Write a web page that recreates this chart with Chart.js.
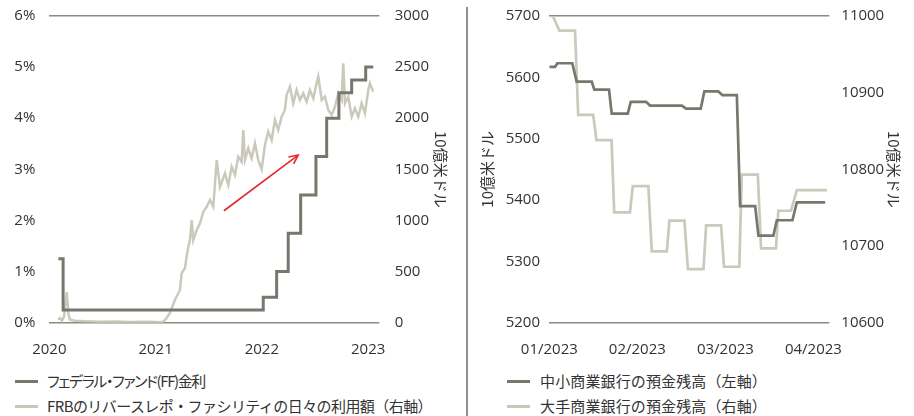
<!DOCTYPE html>
<html><head><meta charset="utf-8">
<script src="https://cdn.jsdelivr.net/npm/chart.js@4.4.0/dist/chart.umd.min.js"></script>
<style>
html,body{margin:0;padding:0;background:#fff;}
body{width:914px;height:416px;position:relative;overflow:hidden;font-family:'Noto Sans CJK JP',sans-serif;}
#c1wrap{position:absolute;left:0;top:0;width:460px;height:370px;}
#c2wrap{position:absolute;left:468px;top:0;width:446px;height:370px;}
#sep{position:absolute;left:466px;top:7px;width:2px;height:409px;background:#8f8f8f;}
.item{position:absolute;white-space:nowrap;height:20px;line-height:20px;font-size:15px;color:#333;}
.sw{position:absolute;height:3px;}
</style>
</head><body>
<div id="c1wrap"><canvas id="c1" width="460" height="370"></canvas></div>
<div id="sep"></div>
<div id="c2wrap"><canvas id="c2" width="446" height="370"></canvas></div>
<div id="leg"></div>
<script>
// ---------- Left chart data ----------
const leftYearTicks = [2020, 2021, 2022, 2023];
const ffYears = [2020.085, 2020.130, 2022.013, 2022.139, 2022.248, 2022.365, 2022.509, 2022.610, 2022.725, 2022.845, 2022.977, 2023.048];
const ffRate  = [1.25, 0.25, 0.5, 1.0, 1.75, 2.5, 3.25, 4.0, 4.5, 4.75, 5.0, 5.0];
const rrpYears = [
  2020.082, 2020.101, 2020.119, 2020.138, 2020.164, 2020.181, 2020.195, 2020.242, 2020.336, 2020.477,
  2020.618, 2020.759, 2020.900, 2020.994, 2021.041, 2021.072, 2021.104, 2021.135, 2021.182, 2021.229,
  2021.246, 2021.277, 2021.292, 2021.308, 2021.324, 2021.340, 2021.355, 2021.387, 2021.418, 2021.449,
  2021.481, 2021.512, 2021.543, 2021.559, 2021.575, 2021.606, 2021.653, 2021.684, 2021.716, 2021.747,
  2021.778, 2021.810, 2021.825, 2021.841, 2021.872, 2021.904, 2021.935, 2021.966, 2021.998, 2022.029,
  2022.060, 2022.092, 2022.123, 2022.154, 2022.186, 2022.217, 2022.233, 2022.264, 2022.295, 2022.327,
  2022.358, 2022.389, 2022.421, 2022.452, 2022.484, 2022.515, 2022.531, 2022.563, 2022.594, 2022.625,
  2022.657, 2022.688, 2022.719, 2022.751, 2022.766, 2022.782, 2022.813, 2022.845, 2022.876, 2022.907,
  2022.939, 2022.970, 2023.001, 2023.017, 2023.048];
const rrpValues = [
  30, 46, 20, 60, 300, 80, 30, 20, 15, 10,
  12, 8, 10, 8, 5, 10, 46, 95, 222, 320,
  486, 535, 646, 743, 809, 1004, 809, 907, 972, 1086,
  1134, 1200, 1134, 1363, 1591, 1330, 1461, 1347, 1526, 1445,
  1624, 1575, 1885, 1591, 1706, 1608, 1755, 1591, 1500, 1740,
  1870, 1787, 1983, 1885, 2015, 2081, 2227, 2308, 2146, 2276,
  2178, 2243, 2162, 2276, 2194, 2341, 2406, 2178, 2211, 2081,
  2031, 2113, 2243, 2178, 2537, 2146, 2211, 2015, 2097, 2015,
  2146, 2048, 2276, 2341, 2260];
const arrowFrom = [2021.643, 1095];
const arrowTo   = [2022.342, 1640];
const leftLabels = ['フェデラル・ファンド(FF)金利', 'FRBのリバースレポ・ファシリティの日々の利用額（右軸）'];

// ---------- Right chart data ----------
const monthTicks = [0, 1, 2, 3];
const monthLabels = ['01/2023', '02/2023', '03/2023', '04/2023'];
const smallX = [0.000, 0.065, 0.091, 0.261, 0.311, 0.482, 0.511, 0.678, 0.709, 0.891, 0.925, 1.099, 1.144, 1.505, 1.553, 1.720, 1.761, 1.920, 1.966, 2.130, 2.167, 2.338, 2.375, 2.545, 2.584, 2.761, 2.811, 3.133];
const smallDeposits = [5617, 5617, 5623, 5623, 5593, 5593, 5580, 5580, 5541, 5541, 5560, 5560, 5554, 5554, 5549, 5549, 5577, 5577, 5571, 5571, 5390, 5390, 5342, 5342, 5367, 5367, 5396, 5396];
const largeX = [0.000, 0.040, 0.114, 0.292, 0.328, 0.498, 0.536, 0.707, 0.737, 0.916, 0.948, 1.125, 1.164, 1.335, 1.364, 1.535, 1.574, 1.751, 1.781, 1.951, 1.984, 2.158, 2.186, 2.368, 2.405, 2.575, 2.601, 2.745, 2.811, 3.153];
const largeDeposits = [11000, 11000, 10981, 10981, 10871, 10871, 10838, 10838, 10744, 10744, 10778, 10778, 10693, 10693, 10733, 10733, 10670, 10670, 10727, 10727, 10673, 10673, 10793, 10793, 10697, 10697, 10746, 10746, 10773, 10773];
const rightLabels = ['中小商業銀行の預金残高（左軸）', '大手商業銀行の預金残高（右軸）'];
const axisTitle = '10億米ドル';

// ---------- styles ----------
const DARK = '#77776e', LIGHT = '#cbc9bc', GRID = '#8b8a7d', TXT = '#333333';
const SW_DARK = '#77776e', SW_LIGHT = '#c9c7b9';
Chart.defaults.font.family = "'Open Sans','Noto Sans CJK JP',sans-serif";
Chart.defaults.font.size = 15;
Chart.defaults.color = TXT;

const pts = (xs, ys) => xs.map((x, i) => ({x, y: ys[i]}));
const edgeGrid = (min, max) => ({
  drawTicks: false, lineWidth: 1.5,
  color: c => (c.tick && (c.tick.value === min || c.tick.value === max)) ? GRID : 'rgba(0,0,0,0)'
});
const titleFont = {family: "'Noto Sans CJK JP',sans-serif", size: 15};
const fixW = w => s => { s.width = w; s.paddingTop = 0; s.paddingBottom = 0; };

const arrowPlugin = {
  id: 'arrow',
  afterDatasetsDraw(chart) {
    const xs = chart.scales.x, ys = chart.scales.y2;
    const x1 = xs.getPixelForValue(arrowFrom[0]), y1 = ys.getPixelForValue(arrowFrom[1]);
    const x2 = xs.getPixelForValue(arrowTo[0]), y2 = ys.getPixelForValue(arrowTo[1]);
    const ctx = chart.ctx;
    ctx.save();
    ctx.strokeStyle = '#e8272b'; ctx.lineWidth = 1.6;
    ctx.beginPath(); ctx.moveTo(x1, y1); ctx.lineTo(x2, y2); ctx.stroke();
    const a = Math.atan2(y2 - y1, x2 - x1), L = 10, w = 0.45;
    ctx.beginPath();
    ctx.moveTo(x2 - L * Math.cos(a - w), y2 - L * Math.sin(a - w));
    ctx.lineTo(x2, y2);
    ctx.lineTo(x2 - L * Math.cos(a + w), y2 - L * Math.sin(a + w));
    ctx.stroke();
    ctx.restore();
  }
};

const X_AXIS_H = 370 - 322.7;

new Chart(document.getElementById('c1'), {
  type: 'line',
  data: {
    datasets: [
      {label: leftLabels[0], data: pts(ffYears, ffRate), yAxisID: 'y', borderColor: DARK, borderWidth: 3, stepped: 'before', pointRadius: 0, tension: 0},
      {label: leftLabels[1], data: pts(rrpYears, rrpValues), yAxisID: 'y2', borderColor: LIGHT, borderWidth: 2.5, pointRadius: 0, tension: 0}
    ]
  },
  options: {
    responsive: false, animation: false, devicePixelRatio: 1,
    layout: {padding: {top: 16, bottom: 0, left: 0, right: 0}},
    plugins: {legend: {display: false}, tooltip: {enabled: false}},
    scales: {
      x: {type: 'linear', min: 2020, max: 2023.105,
          afterBuildTicks: s => { s.ticks = leftYearTicks.map(v => ({value: v})); },
          ticks: {padding: 10, maxRotation: 0, callback: v => String(v)},
          grid: {display: false}, border: {display: false},
          afterFit: s => { s.height = X_AXIS_H; }},
      y: {position: 'left', min: 0, max: 6,
          ticks: {stepSize: 1, padding: 14, callback: v => v + '%'},
          grid: edgeGrid(0, 6), border: {display: false},
          afterFit: fixW(49.3)},
      y2: {position: 'right', min: 0, max: 3000,
          ticks: {stepSize: 500, padding: 7.4, callback: v => String(v)},
          grid: {display: false}, border: {display: false},
          title: {display: true, text: axisTitle, font: titleFont, padding: {top: 10, bottom: 0}, color: TXT},
          afterFit: fixW(80.7)}
    }
  },
  plugins: [arrowPlugin]
});

new Chart(document.getElementById('c2'), {
  type: 'line',
  data: {
    datasets: [
      {label: rightLabels[0], data: pts(smallX, smallDeposits), yAxisID: 'y', borderColor: DARK, borderWidth: 2.7, pointRadius: 0, tension: 0},
      {label: rightLabels[1], data: pts(largeX, largeDeposits), yAxisID: 'y2', borderColor: LIGHT, borderWidth: 2.7, pointRadius: 0, tension: 0}
    ]
  },
  options: {
    responsive: false, animation: false, devicePixelRatio: 1,
    layout: {padding: {top: 16, bottom: 0, left: 0, right: 0}},
    plugins: {legend: {display: false}, tooltip: {enabled: false}},
    scales: {
      x: {type: 'linear', min: 0, max: 3.18,
          afterBuildTicks: s => { s.ticks = monthTicks.map(v => ({value: v})); },
          ticks: {padding: 10, maxRotation: 0, callback: v => monthLabels[monthTicks.indexOf(v)] || ''},
          grid: {display: false}, border: {display: false},
          afterFit: s => { s.height = X_AXIS_H; }},
      y: {position: 'left', min: 5200, max: 5700,
          ticks: {stepSize: 100, padding: 9.3, callback: v => String(v)},
          grid: edgeGrid(5200, 5700), border: {display: false},
          title: {display: true, text: axisTitle, font: titleFont, padding: {top: 10.5, bottom: 0}, color: TXT},
          afterFit: fixW(81.3)},
      y2: {position: 'right', min: 10600, max: 11000,
          ticks: {stepSize: 100, padding: 4, callback: v => String(v)},
          grid: {display: false}, border: {display: false},
          title: {display: true, text: axisTitle, font: titleFont, padding: {top: 11, bottom: 0}, color: TXT},
          afterFit: fixW(84.7)}
    }
  }
});

// ---------- HTML legends ----------
const leg = document.getElementById('leg');
function addItem(swLeft, textLeft, yc, color, text, targetW, palt) {
  const sw = document.createElement('div');
  sw.className = 'sw';
  sw.style.cssText = `left:${swLeft}px;width:23px;top:${yc - 1.5}px;background:${color};`;
  leg.appendChild(sw);
  const t = document.createElement('div');
  t.className = 'item';
  t.style.cssText = `left:${textLeft}px;top:${yc - 10}px;` + (palt ? 'font-feature-settings:"palt";' : '');
  t.textContent = text;
  leg.appendChild(t);
  const w = t.getBoundingClientRect().width;
  const n = [...text].length;
  t.style.letterSpacing = ((targetW - w) / n) + 'px';
}
addItem(15, 47, 381, SW_DARK, leftLabels[0], 158, true);
addItem(15, 47, 406, SW_LIGHT, leftLabels[1], 385, false);
addItem(507, 540, 381, SW_DARK, rightLabels[0], 227, false);
addItem(507, 540, 406, SW_LIGHT, rightLabels[1], 227, false);
</script>
</body></html>
